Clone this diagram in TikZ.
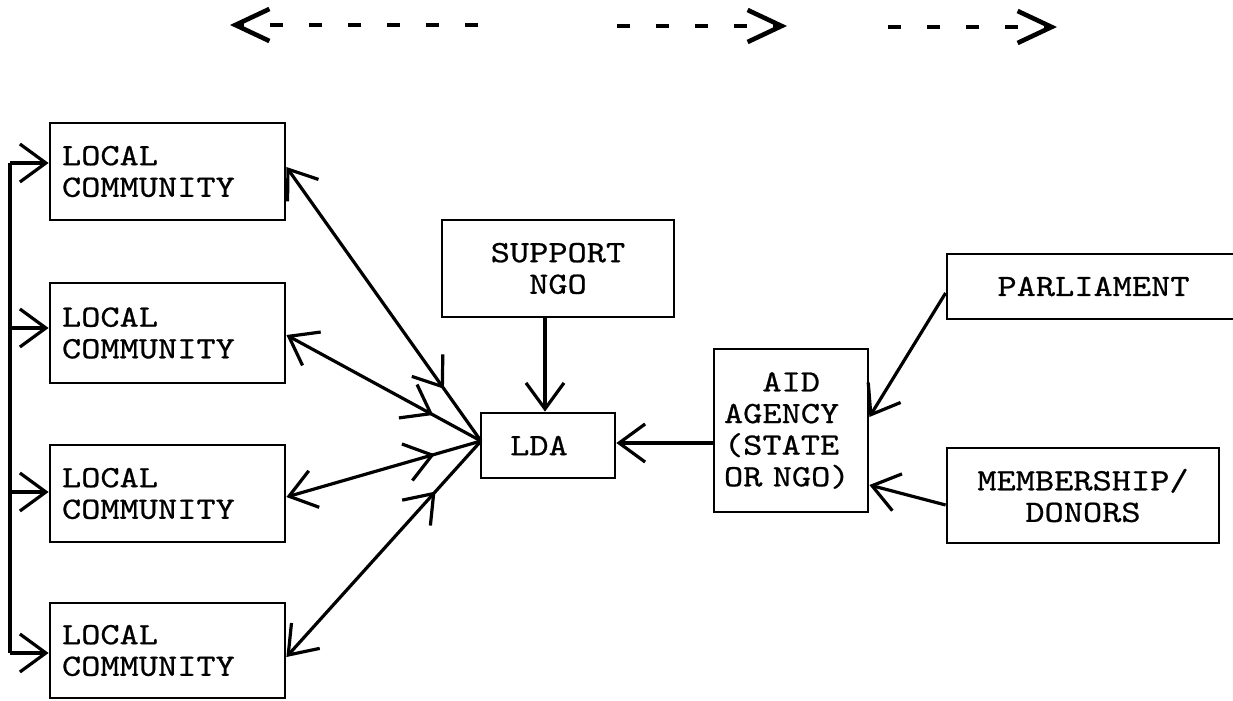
\documentclass[tikz,border=0pt]{standalone}
\usepackage{fontspec}
\newfontfamily\tw{lmmono10-regular.otf}[FakeStretch=1.18,FakeBold=0.7]
\usetikzlibrary{arrows.meta,decorations.markings}
\tikzset{
  hd/.tip={Straight Barb[length=13pt,width=19pt]},
  bighd/.tip={Straight Barb[length=17pt,width=16pt]},
  bx/.style={draw,line width=1.4pt,inner sep=0pt,font=\tw\fontsize{15.5pt}{15.8pt}\selectfont,align=center},
  lcbox/.style={bx,align=left,minimum width=117.5pt,text width=105.5pt},
  ln/.style={line width=1.6pt},
  topline/.style={line width=2.3pt,dash pattern=on 6.5pt off 13pt},
  midarrow/.style={postaction={decorate,decoration={markings,mark=at position #1 with {\arrow{hd}}}}}
}
\begin{document}
\begin{tikzpicture}[x=0.5pt,y=-0.5pt]
\useasboundingbox (0,0) rectangle (1233,701);

% top dashed arrows
\coordinate (t1s) at (478,25); \coordinate (t1e) at (230,25);
\coordinate (t2s) at (617,26); \coordinate (t2e) at (787,26);
\coordinate (t3s) at (888,27); \coordinate (t3e) at (1057,27);
\draw[topline,-{bighd}] (t1s) -- (t1e);
\draw[topline,-{bighd}] (t2s) -- (t2e);
\draw[topline,-{bighd}] (t3s) -- (t3e);

% boxes
\node[lcbox,minimum height=48.5pt] (lc1) at (167.5,171.5) {LOCAL\\COMMUNITY};
\node[lcbox,minimum height=50pt] (lc2) at (167.5,333) {LOCAL\\COMMUNITY};
\node[lcbox,minimum height=48.5pt] (lc3) at (167.5,493.5) {LOCAL\\COMMUNITY};
\node[lcbox,minimum height=47.5pt] (lc4) at (167.5,650.5) {LOCAL\\COMMUNITY};
\node[bx,minimum width=116pt,minimum height=48.5pt] (sup) at (558,268.5) {SUPPORT\\NGO};
\node[bx,minimum width=67pt,minimum height=32.5pt] (lda) at (548,445.5) {LDA\hspace*{9pt}};
\node[bx,align=left,minimum width=77pt,text width=67pt,minimum height=81.5pt] (aid) at (791,430.5) {\phantom{AG}AID\\AGENCY\\(STATE\\OR NGO)};
\node[bx,minimum width=146.5pt,minimum height=32.5pt] (parl) at (1093.5,286.5) {PARLIAMENT};
\node[bx,minimum width=136pt,minimum height=47.5pt] (mem) at (1083,495.5) {MEMBERSHIP/\\DONORS};

% left bus
\coordinate (b1) at (10,163);
\coordinate (b2) at (10,328);
\coordinate (b3) at (10,492);
\coordinate (b4) at (10,653);
\draw[ln] (b1) -- (b4);
\draw[ln,-{hd}] (b1) -- (b1 -| lc1.west);
\draw[ln,-{hd}] (b2) -- (b2 -| lc2.west);
\draw[ln,-{hd}] (b3) -- (b3 -| lc3.west);
\draw[ln,-{hd}] (b4) -- (b4 -| lc4.west);

% communities <-> LDA
\coordinate (conv) at (481,441);
\draw[ln,{hd}-,midarrow=-32pt] (lc1.east |- 0,167) -- (conv);
\draw[ln,{hd}-,midarrow=-27pt] (lc2.east |- 0,335) -- (conv);
\draw[ln,{hd}-,midarrow=-24pt] (lc3.east |- 0,497) -- (conv);
\draw[ln,{hd}-,midarrow=-34pt] (lc4.east |- 0,657) -- (conv);

% other connectors
\draw[ln,-{hd}] (sup.south -| 545,0) -- (lda.north -| 545,0);
\draw[ln,-{hd}] (aid.west |- 0,443) -- (lda.east |- 0,443);
\draw[ln,-{hd}] (parl.west |- 0,293) -- (aid.east |- 0,417);
\draw[ln,-{hd}] (mem.west |- 0,505) -- (aid.east |- 0,485);
\end{tikzpicture}
\end{document}
